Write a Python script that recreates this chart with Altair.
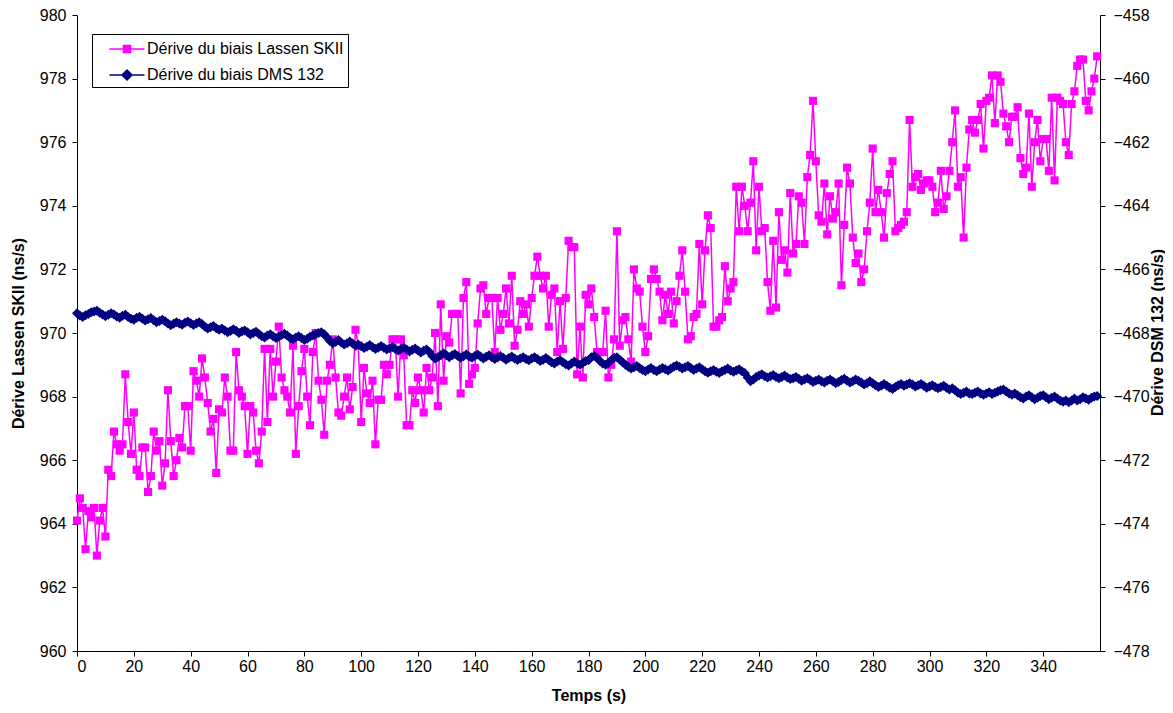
import altair as alt
import pandas as pd

# ---------------- data ----------------
t_values = list(range(360))

lassen = [
    964.1, 964.8, 964.5, 963.2, 964.4, 964.2, 964.5, 963.0, 964.1, 964.5,
    963.6, 965.7, 965.5, 966.9, 966.5, 966.3, 966.5, 968.7, 967.2, 966.2,
    967.5, 965.7, 965.5, 966.4, 966.4, 965.0, 965.5, 966.9, 966.3, 966.6,
    965.2, 965.9, 968.2, 966.6, 965.5, 966.0, 966.7, 966.4, 967.7, 967.7,
    966.3, 968.8, 968.5, 968.0, 969.2, 968.6, 967.8, 966.9, 967.3, 965.6,
    967.6, 967.5, 968.6, 968.0, 966.3, 966.3, 969.4, 968.2, 968.0, 967.7,
    966.2, 967.7, 967.5, 966.3, 965.9, 966.9, 969.5, 967.2, 969.5, 968.0,
    969.1, 970.2, 968.6, 968.2, 968.0, 967.5, 969.6, 966.2, 967.7, 968.8,
    969.5, 968.0, 967.1, 969.4, 970.0, 968.5, 967.9, 966.8, 968.5, 969.0,
    969.8, 968.6, 967.5, 967.4, 968.0, 968.6, 967.6, 968.3, 970.1, 969.6,
    967.2, 968.9, 968.1, 967.8, 968.5, 966.5, 967.9, 967.9, 969.0, 968.7,
    969.0, 969.8, 969.8, 968.0, 969.8, 969.3, 967.1, 967.1, 968.2, 967.8,
    968.6, 968.2, 967.5, 968.9, 968.2, 968.6, 970.0, 967.7, 970.9, 968.5,
    969.9, 969.7, 970.6, 970.6, 970.6, 968.1, 971.1, 971.6, 968.4, 968.7,
    968.9, 970.3, 971.4, 971.5, 970.6, 971.1, 971.1, 969.4, 971.1, 970.1,
    970.6, 971.4, 970.3, 971.8, 969.6, 970.1, 971.0, 970.6, 970.9, 970.2,
    971.1, 971.8, 972.4, 971.8, 971.4, 971.8, 970.2, 971.2, 971.4, 969.4,
    971.0, 969.5, 971.1, 972.9, 972.7, 972.7, 968.7, 970.2, 968.6, 971.2,
    970.9, 971.4, 970.5, 969.4, 969.4, 969.4, 970.7, 968.6, 969.0, 969.8,
    973.2, 969.6, 970.4, 970.5, 969.8, 969.1, 972.0, 971.4, 971.3, 970.2,
    969.4, 969.9, 971.7, 972.0, 971.7, 971.3, 970.4, 971.2, 970.6, 971.3,
    970.3, 971.0, 971.8, 972.6, 971.3, 969.8, 969.9, 970.5, 970.6, 972.8,
    970.9, 972.6, 973.7, 973.3, 970.2, 970.2, 970.4, 970.5, 972.1, 971.0,
    971.4, 971.6, 974.6, 973.2, 974.6, 974.0, 973.2, 974.1, 975.4, 972.6,
    974.6, 973.2, 973.3, 971.6, 970.7, 972.9, 970.8, 973.8, 972.3, 972.6,
    971.9, 974.4, 972.5, 972.8, 974.3, 974.1, 972.8, 974.9, 975.6, 977.3,
    975.4, 973.7, 973.5, 974.7, 973.1, 974.3, 973.6, 973.8, 974.7, 971.5,
    973.4, 975.2, 974.7, 973.0, 972.2, 972.5, 971.6, 972.0, 973.2, 974.1,
    975.8, 973.8, 974.5, 973.8, 973.0, 974.4, 975.0, 975.4, 973.2, 973.3,
    973.4, 973.5, 973.8, 976.7, 974.6, 974.9, 975.0, 974.5, 974.7, 974.8,
    974.8, 974.6, 973.8, 974.1, 975.1, 973.9, 974.3, 975.1, 976.0, 977.0,
    974.6, 974.9, 973.0, 975.2, 976.4, 976.7, 976.3, 976.7, 977.2, 975.8,
    977.3, 977.4, 978.1, 976.6, 978.1, 977.9, 976.9, 976.5, 976.0, 976.8,
    976.8, 977.1, 975.5, 975.0, 975.2, 976.9, 974.6, 976.0, 976.7, 975.4,
    976.1, 976.1, 975.1, 977.4, 974.8, 977.4, 977.3, 977.2, 976.0, 975.6,
    977.2, 977.6, 978.4, 978.6, 978.6, 977.3, 977.0, 977.6, 978.0, 978.7,
]

dms = [
    -467.38, -467.45, -467.50, -467.44, -467.40, -467.35, -467.32, -467.30, -467.36, -467.42,
    -467.47, -467.43, -467.38, -467.42, -467.48, -467.52, -467.46, -467.43, -467.50, -467.55,
    -467.58, -467.52, -467.49, -467.55, -467.61, -467.57, -467.53, -467.60, -467.66, -467.62,
    -467.58, -467.63, -467.70, -467.76, -467.71, -467.66, -467.70, -467.74, -467.68, -467.64,
    -467.69, -467.75, -467.70, -467.66, -467.72, -467.80, -467.86, -467.82, -467.78, -467.85,
    -467.90, -467.86, -467.92, -467.98, -467.94, -467.88, -467.93, -468.00, -467.95, -467.92,
    -467.98, -468.05, -468.00, -467.96, -468.03, -468.10, -468.14, -468.08, -468.04, -468.10,
    -468.16, -468.12, -468.06, -468.02, -468.08, -468.16, -468.20, -468.14, -468.10, -468.16,
    -468.22, -468.18, -468.12, -468.08, -468.04, -468.00, -467.98, -468.04, -468.14, -468.25,
    -468.32, -468.28, -468.22, -468.30, -468.36, -468.32, -468.27, -468.33, -468.40, -468.36,
    -468.42, -468.47, -468.43, -468.38, -468.44, -468.50, -468.46, -468.41, -468.46, -468.52,
    -468.48, -468.44, -468.50, -468.55, -468.50, -468.46, -468.52, -468.58, -468.53, -468.49,
    -468.55, -468.61, -468.56, -468.52, -468.60, -468.72, -468.80, -468.76, -468.70, -468.64,
    -468.70, -468.76, -468.70, -468.66, -468.72, -468.78, -468.73, -468.68, -468.74, -468.78,
    -468.72, -468.68, -468.74, -468.80, -468.75, -468.70, -468.76, -468.82, -468.77, -468.72,
    -468.78, -468.84, -468.79, -468.74, -468.80, -468.85, -468.80, -468.76, -468.82, -468.86,
    -468.80, -468.76, -468.82, -468.88, -468.84, -468.79, -468.85, -468.92, -468.96, -468.90,
    -468.86, -468.92, -468.98, -469.02, -468.96, -468.90, -468.95, -469.00, -468.94, -468.88,
    -468.86, -468.76, -468.72, -468.78, -468.88, -468.96, -469.00, -468.94, -468.86, -468.78,
    -468.76, -468.84, -468.92, -469.00, -469.06, -469.12, -469.08, -469.04, -469.10, -469.16,
    -469.20, -469.15, -469.10, -469.16, -469.20, -469.15, -469.10, -469.14, -469.18, -469.12,
    -469.06, -469.02, -469.06, -469.12, -469.08, -469.04, -469.10, -469.16, -469.12, -469.08,
    -469.14, -469.20, -469.25, -469.20, -469.16, -469.22, -469.26, -469.20, -469.16, -469.12,
    -469.18, -469.22, -469.18, -469.14, -469.20, -469.26, -469.40, -469.52, -469.46, -469.38,
    -469.34, -469.30, -469.36, -469.40, -469.36, -469.32, -469.38, -469.42, -469.38, -469.34,
    -469.40, -469.45, -469.42, -469.38, -469.44, -469.50, -469.46, -469.42, -469.48, -469.54,
    -469.50, -469.46, -469.52, -469.56, -469.50, -469.46, -469.52, -469.58, -469.54, -469.48,
    -469.44, -469.50, -469.56, -469.52, -469.46, -469.50, -469.56, -469.62, -469.58, -469.52,
    -469.58, -469.64, -469.70, -469.66, -469.60, -469.66, -469.72, -469.76, -469.70, -469.64,
    -469.60, -469.66, -469.62, -469.58, -469.62, -469.68, -469.64, -469.60, -469.66, -469.72,
    -469.68, -469.64, -469.70, -469.74, -469.70, -469.66, -469.72, -469.78, -469.74, -469.80,
    -469.88, -469.92, -469.88, -469.84, -469.90, -469.92, -469.88, -469.84, -469.90, -469.94,
    -469.90, -469.86, -469.92, -469.88, -469.84, -469.80, -469.78, -469.84, -469.90, -469.94,
    -469.90, -469.96, -470.02, -470.06, -470.00, -469.96, -470.02, -470.08, -470.04, -469.98,
    -469.96, -470.02, -470.08, -470.04, -470.00, -470.06, -470.12, -470.16, -470.12, -470.18,
    -470.12, -470.06, -470.12, -470.08, -470.02, -470.06, -470.10, -470.04, -470.00, -469.98,
]

x_ticks = list(range(0, 341, 20))
left_ticks = list(range(960, 981, 2))
right_ticks = list(range(-478, -457, 2))

series_names = ["Dérive du biais Lassen SKII", "Dérive du biais DMS 132"]
series_colors = ["#FF00FF", "#000080"]
legend_paths = [
    "M-1.75,0H1.75M-0.35,-0.35H0.35V0.35H-0.35Z",
    "M-1.75,0H1.75M0,-0.5L0.5,0L0,0.5L-0.5,0Z",
]

x_title = "Temps (s)"
left_title = "Dérive Lassen SKII (ns/s)"
right_title = "Dérive DSM 132 (ns/s)"

df = pd.DataFrame({"t": t_values, "lassen": lassen, "dms": dms})
legend_df = pd.DataFrame({"series": series_names})

FONT = "Liberation Sans"
W, H = 1023, 636

x_enc = alt.X(
    "t:Q",
    scale=alt.Scale(domain=[0, 360], nice=False, zero=False),
    axis=alt.Axis(values=x_ticks, title=x_title, titleY=44, titleBaseline="middle",
                  labelPadding=2),
)

# Lassen layer (left axis)
y_left = alt.Y(
    "lassen:Q",
    scale=alt.Scale(domain=[960, 980], nice=False, zero=False),
    axis=alt.Axis(values=left_ticks, title=left_title, orient="left",
                  titleX=-59, titleY=H / 2, titleAngle=270, titleBaseline="middle",
                  titleAlign="center", labelPadding=6),
)
base_l = alt.Chart(df).encode(x=x_enc, y=y_left)
lassen_layer = alt.layer(
    base_l.mark_line(color=series_colors[0], strokeWidth=1.5),
    base_l.mark_point(shape="square", filled=True, color=series_colors[0], size=66, opacity=1),
)

# DMS layer (right axis)
y_right = alt.Y(
    "dms:Q",
    scale=alt.Scale(domain=[-478, -458], nice=False, zero=False),
    axis=alt.Axis(values=right_ticks, title=right_title, orient="right",
                  titleX=57, titleY=H / 2 - 1, titleAngle=270, titleBaseline="middle",
                  titleAlign="center", labelPadding=8),
)
base_d = alt.Chart(df).encode(x=x_enc, y=y_right)
dms_layer = alt.layer(
    base_d.mark_line(color=series_colors[1], strokeWidth=2),
    base_d.mark_point(shape="diamond", filled=True, color=series_colors[1], size=100, opacity=1),
)

# Legend layer (invisible marks, real legend)
leg = alt.Legend(
    title=None, orient="none", legendX=15, legendY=19, direction="vertical",
    fillColor="white", strokeColor="black", padding=4, cornerRadius=0,
    symbolSize=400, symbolOffset=20, labelOffset=9, rowPadding=7,
    symbolStrokeWidth=1.5, symbolOpacity=1,
    labelFont=FONT, labelFontSize=16, labelColor="black", labelLimit=0,
    labelExpr="datum.label + '\u2003\u2003'",
)
legend_layer = alt.Chart(legend_df).mark_point(opacity=0, size=400, strokeWidth=1.5).encode(
    x=alt.value(100),
    y=alt.value(40),
    fill=alt.Fill("series:N", scale=alt.Scale(domain=series_names, range=series_colors), legend=leg),
    stroke=alt.Stroke("series:N", scale=alt.Scale(domain=series_names, range=series_colors), legend=leg),
    shape=alt.Shape("series:N", scale=alt.Scale(domain=series_names, range=legend_paths), legend=leg),
)

chart = (
    alt.layer(lassen_layer, dms_layer, legend_layer)
    .resolve_scale(y="independent")
    .properties(
        width=W, height=H,
        autosize=alt.AutoSizeParams(type="none"),
        padding={"left": 69, "top": 7, "right": 65, "bottom": 55},
    )
    .configure_view(stroke=None)
    .configure_axis(
        grid=False, domainColor="black", tickColor="black", labelColor="black",
        titleColor="black", labelFont=FONT, titleFont=FONT, labelFontSize=16,
        titleFontSize=16, titleFontWeight="bold", tickSize=5, domainWidth=1, tickWidth=1,
    )
)

chart.save("out.html", embed_options={"renderer": "svg", "actions": False})
